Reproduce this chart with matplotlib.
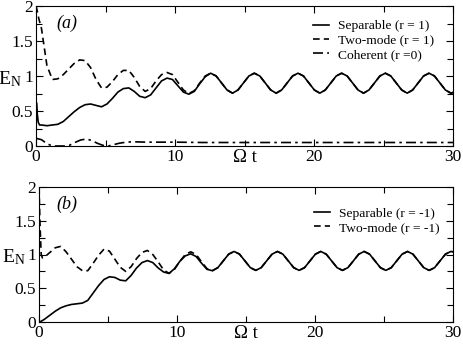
import numpy as np
import matplotlib
matplotlib.use("Agg")
import matplotlib.pyplot as plt

plt.rcParams['font.family'] = ['Liberation Serif', 'DejaVu Serif']
plt.rcParams['mathtext.fontset'] = 'stix'

# sample times: a few early points, then every pi/8 up to 9.5 pi, then the end at 30
t_grid = np.append(np.pi / 8 * np.arange(1, 77), 30.0)

# ---- panel (a) ----
sep_a_head_t = [0.0, 0.03, 0.08, 0.16, 0.26]
sep_a_head = [0.0, 0.62, 0.48, 0.34, 0.30]
sep_a_early = [0.30, 0.29, 0.30, 0.31, 0.35, 0.42, 0.49, 0.55,
               0.59, 0.60, 0.58, 0.56, 0.60, 0.68, 0.77, 0.82,
               0.83, 0.78, 0.71, 0.69, 0.73, 0.83, 0.93, 0.97,
               0.95, 0.86, 0.77, 0.74, 0.78, 0.89, 0.99, 1.04]

two_a_head_t = [0.0, 0.1, 0.2]
two_a_head = [2.0, 1.92, 1.82]
two_a_early = [1.68, 1.15, 0.95, 0.96, 1.02, 1.10, 1.18, 1.23,
               1.22, 1.12, 0.95, 0.83, 0.84, 0.92, 1.02, 1.08,
               1.08, 0.98, 0.85, 0.78, 0.82, 0.93, 1.02, 1.05,
               1.02, 0.91, 0.80, 0.75, 0.79, 0.90, 1.00, 1.04]

# both r = 1 curves coincide after t ~ 4 pi
steady_a = [1.00, 0.90, 0.80, 0.755, 0.80, 0.90, 1.00, 1.04,
            1.00, 0.90, 0.80, 0.755, 0.80, 0.90, 1.00, 1.04,
            1.00, 0.90, 0.80, 0.755, 0.80, 0.90, 1.00, 1.04,
            1.00, 0.90, 0.80, 0.755, 0.80, 0.90, 1.00, 1.04,
            1.00, 0.90, 0.80, 0.755, 0.80, 0.90, 1.00, 1.04,
            1.00, 0.90, 0.80, 0.755, 0.765]

coh_t = [0.0, 0.4, 0.8, 1.2, 1.6, 2.0, 2.4, 2.8, 3.2, 3.6, 4.0, 4.4,
         4.8, 5.2, 5.6, 6.0, 6.5, 7.0, 8.0, 10.0, 12.0, 15.0, 20.0, 25.0, 30.0]
coh_a = [0.11, 0.09, 0.03, 0.0, 0.0, 0.0, 0.01, 0.05, 0.085, 0.10, 0.08, 0.04,
         0.01, 0.0, 0.02, 0.04, 0.055, 0.06, 0.055, 0.055, 0.05, 0.05, 0.05, 0.05, 0.05]

# ---- panel (b) ----
sep_b_head_t = [0.0, 0.15]
sep_b_head = [0.0, 0.01]
sep_b_early = [0.04, 0.10, 0.16, 0.21, 0.24, 0.26, 0.27, 0.28,
               0.32, 0.43, 0.54, 0.63, 0.67, 0.66, 0.62, 0.61,
               0.69, 0.80, 0.88, 0.91, 0.88, 0.80, 0.74, 0.72,
               0.79, 0.90, 0.98, 1.01, 0.97, 0.87, 0.78, 0.76]

two_b_head_t = [0.0, 0.08, 0.16, 0.25]
two_b_head = [2.0, 1.4, 1.0, 0.95]
two_b_early = [0.96, 1.03, 1.10, 1.12, 1.04, 0.93, 0.82, 0.76,
               0.76, 0.87, 0.99, 1.08, 1.05, 0.93, 0.81, 0.75,
               0.82, 0.94, 1.03, 1.06, 1.00, 0.89, 0.77, 0.72,
               0.78, 0.90, 1.00, 1.04, 1.00, 0.89, 0.79, 0.76]

steady_b = [0.805, 0.905, 1.005, 1.045, 1.005, 0.905, 0.805, 0.765,
            0.805, 0.905, 1.005, 1.045, 1.005, 0.905, 0.805, 0.765,
            0.805, 0.905, 1.005, 1.045, 1.005, 0.905, 0.805, 0.765,
            0.805, 0.905, 1.005, 1.045, 1.005, 0.905, 0.805, 0.765,
            0.805, 0.905, 1.005, 1.045, 1.005, 0.905, 0.805, 0.765,
            0.805, 0.905, 1.005, 1.045, 1.04]

x_ticks = [0, 10, 20, 30]
y_ticks = [0, 0.5, 1, 1.5, 2]
y_labels = ['0', '0.5', '1', '1.5', '2']


def series(head_t, head, early, steady):
    return np.concatenate([head_t, t_grid]), np.concatenate([head, early, steady])


fig = plt.figure(figsize=(4.63, 3.46), dpi=100)
ax1 = fig.add_axes([36 / 463, 1 - 146 / 346, 417 / 463, 140 / 346])
ax2 = fig.add_axes([39 / 463, 1 - 322 / 346, 414 / 463, 135 / 346])

lw = 1.2
t, y = series(sep_a_head_t, sep_a_head, sep_a_early, steady_a)
ax1.plot(t, y, color='black', lw=lw, label='Separable (r = 1)')
t, y = series(two_a_head_t, two_a_head, two_a_early, steady_a)
ax1.plot(t, y, color='black', lw=lw, dashes=(4, 2.5), label='Two-mode (r = 1)')
ax1.plot(coh_t, coh_a, color='black', lw=lw, dashes=(6, 2.5, 1.5, 2.5),
         label='Coherent (r =0)')

t, y = series(sep_b_head_t, sep_b_head, sep_b_early, steady_b)
ax2.plot(t, y, color='black', lw=lw, label='Separable (r = -1)')
t, y = series(two_b_head_t, two_b_head, two_b_early, steady_b)
ax2.plot(t, y, color='black', lw=lw, dashes=(4, 2.5), label='Two-mode (r = -1)')

for ax, tag, tagx, legy in [(ax1, '(a)', 0.05, 0.90), (ax2, '(b)', 0.043, 0.85)]:
    ax.set_xlim(0, 30)
    ax.set_ylim(0, 2)
    ax.set_xticks(x_ticks)
    ax.set_xticks([5, 15, 25], minor=True)
    ax.set_yticks(y_ticks)
    ax.set_yticklabels(y_labels)
    ax.set_yticks([0.25, 0.75, 1.25, 1.75], minor=True)
    ax.tick_params(which='both', direction='in', top=True, right=True,
                   labelsize=12.5, width=0.8)
    ax.tick_params(which='major', length=5, pad=2)
    ax.tick_params(which='minor', length=4)
    for s in ax.spines.values():
        s.set_linewidth(0.8)
    ax.annotate('Ω t', xy=(0.5, 0), xycoords='axes fraction', xytext=(0, -2),
                textcoords='offset points', ha='center', va='top', fontsize=13.5)
    ax.text(-0.09, 0.48, r'$\mathregular{E_N}$', transform=ax.transAxes,
            ha='left', va='center', fontsize=14)
    ax.text(tagx, 0.935, tag, transform=ax.transAxes, ha='left', va='top',
            fontsize=13, style='italic')
    ax.legend(loc='upper left', bbox_to_anchor=(0.664, legy), frameon=False,
              fontsize=9.7, handlelength=1.2, handletextpad=0.65,
              labelspacing=0.13, borderpad=0, borderaxespad=0)

fig.savefig('out.png', dpi=100)
